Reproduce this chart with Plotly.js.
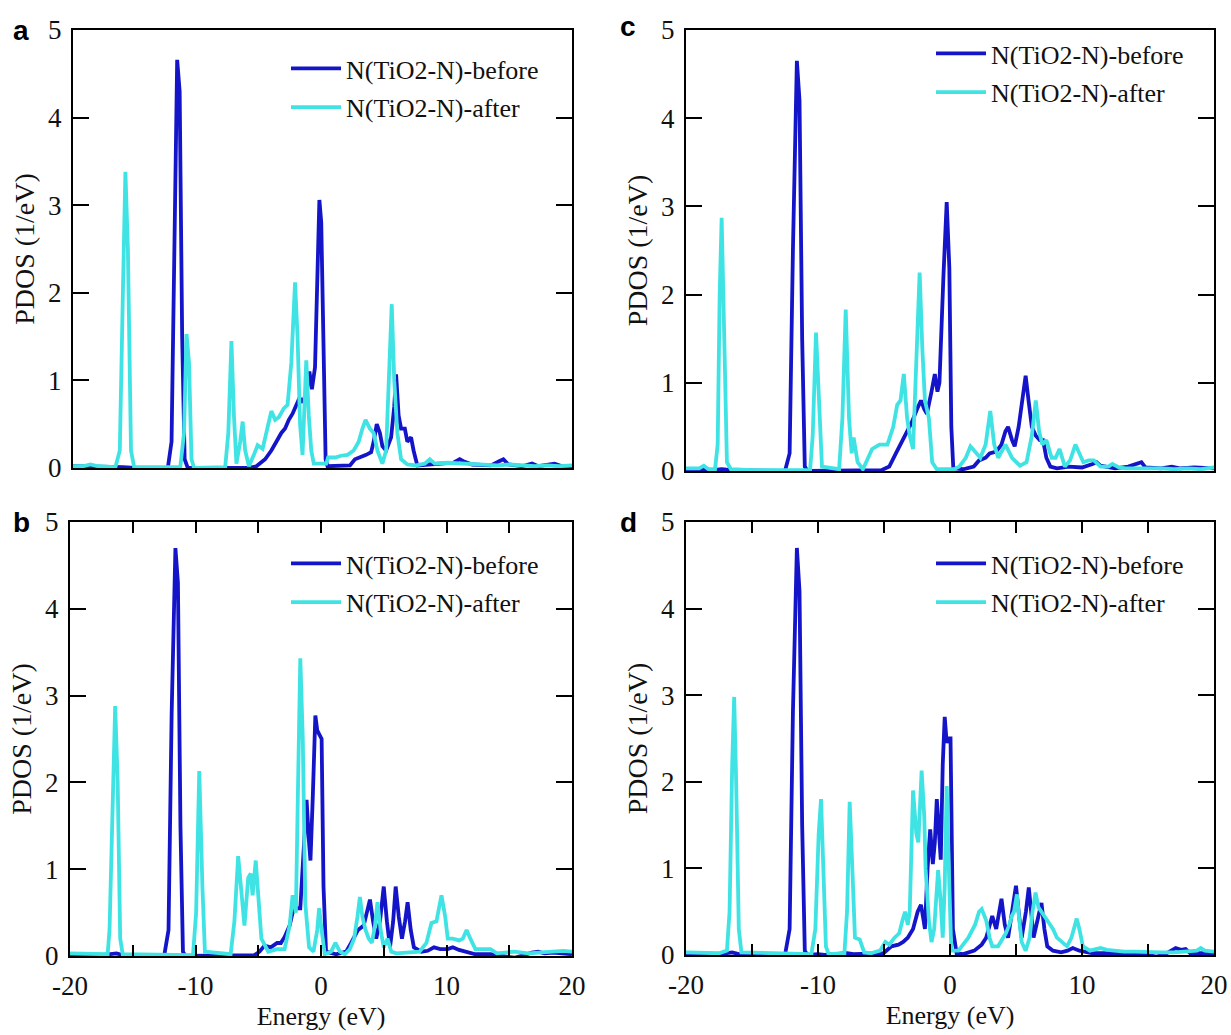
<!DOCTYPE html>
<html>
<head>
<meta charset="utf-8">
<script src="https://cdn.plot.ly/plotly-3.0.1.min.js"></script>
<style>html,body{margin:0;padding:0;background:#fff;}#chart{width:1231px;height:1035px;}</style>
</head>
<body>
<div id="chart"></div>
<script>
// ---------- DATA ----------
const seriesNames = ["N(TiO2-N)-before", "N(TiO2-N)-after"];
const panelLabels = ["a", "c", "b", "d"];
const xTickVals = [-20, -15, -10, -5, 0, 5, 10, 15, 20];
const xTickText = ["-20", "", "-10", "", "0", "", "10", "", "20"];
const yTickVals = [0, 1, 2, 3, 4, 5];

// Panel a
const aBeforeE = [-20,-19,-18,-17,-16,-15,-12.4,-12.1,-11.85,-11.65,-11.45,-11.25,-11.05,-10.8,-6,-5.3,-4.6,-4.1,-3.7,-3.3,-3.0,-2.7,-2.4,-2.1,-1.85,-1.6,-1.3,-1.05,-0.85,-0.6,-0.4,-0.25,-0.1,0.1,0.25,0.4,1.5,2.2,2.6,3.0,3.5,3.9,4.1,4.35,4.6,4.8,5.1,5.5,5.75,5.9,6.1,6.3,6.6,6.8,7.1,7.3,7.6,8.5,9.5,10.5,11.0,11.4,12,13.5,14.2,14.5,14.9,16,16.8,17.3,18.6,19.2,20];
const aBeforeY = [0.02,0.02,0.01,0.02,0.01,0,0,0.3,2.5,4.66,4.3,1.5,0.1,0,0,0.02,0.1,0.2,0.3,0.4,0.45,0.55,0.62,0.72,0.8,0.75,0.85,1.1,0.9,1.15,2.4,3.06,2.8,1.0,0.1,0.02,0.02,0.03,0.1,0.12,0.15,0.18,0.3,0.5,0.4,0.25,0.2,0.35,0.7,1.07,0.6,0.45,0.45,0.3,0.35,0.2,0.03,0.04,0.05,0.06,0.1,0.07,0.04,0.03,0.08,0.1,0.04,0.02,0.05,0.02,0.05,0.02,0.02];
const aAfterE = [-20,-19.2,-18.6,-18,-16.6,-16.25,-16.0,-15.8,-15.6,-15.35,-15.1,-11.4,-11.1,-10.9,-10.7,-10.5,-10.3,-7.8,-7.55,-7.3,-7.1,-6.9,-6.6,-6.4,-6.2,-5.9,-5.5,-5.2,-4.8,-4.5,-4.1,-3.8,-3.5,-3.1,-2.8,-2.5,-2.2,-2.0,-1.8,-1.6,-1.45,-1.3,-1.1,-0.9,-0.7,0.3,0.45,1.0,1.5,2.0,2.5,2.9,3.2,3.45,3.8,4.1,4.4,4.8,5.1,5.35,5.55,5.75,6.0,6.3,6.8,7.5,8.2,8.6,9.0,10,11,12,13,14,15,16,17,18,19,20];
const aAfterY = [0.02,0.02,0.04,0.02,0.01,0.2,2.0,3.38,2.5,0.2,0.01,0.01,0.4,1.53,1.2,0.1,0,0.01,0.4,1.45,0.6,0.05,0.3,0.53,0.2,0.02,0.15,0.26,0.22,0.4,0.65,0.55,0.58,0.68,0.72,1.2,2.12,1.5,0.5,0.15,0.6,1.23,0.6,0.2,0.05,0.05,0.12,0.12,0.14,0.15,0.2,0.3,0.45,0.55,0.45,0.4,0.2,0.05,0.2,1.0,1.87,1.0,0.4,0.1,0.04,0.03,0.05,0.1,0.05,0.06,0.05,0.05,0.04,0.03,0.04,0.03,0.02,0.03,0.02,0.03];

// Panel c
const cBeforeE = [-20,-18,-17.3,-16.5,-12.5,-12.15,-11.9,-11.6,-11.4,-11.2,-11.0,-10.8,-5.2,-4.6,-4.1,-3.6,-3.2,-2.9,-2.5,-2.2,-1.95,-1.75,-1.4,-1.15,-0.95,-0.8,-0.5,-0.25,-0.05,0.1,0.25,1.0,1.8,2.2,2.7,3.0,3.5,3.9,4.2,4.4,4.7,4.9,5.2,5.5,5.73,5.95,6.2,6.5,6.8,7.05,7.3,7.6,8.1,9,10,10.8,11.1,11.4,12.5,13.5,14.2,14.5,14.8,16,16.8,17.4,18.5,20];
const cBeforeY = [0.02,0.01,0.02,0.01,0,0.2,2.5,4.65,4.2,1.5,0.05,0,0.01,0.05,0.2,0.35,0.45,0.55,0.7,0.8,0.7,0.65,0.9,1.1,0.9,1.0,2.2,3.05,2.3,0.5,0.03,0.02,0.05,0.12,0.15,0.2,0.22,0.3,0.45,0.5,0.35,0.28,0.5,0.85,1.08,0.8,0.5,0.4,0.35,0.35,0.15,0.05,0.03,0.05,0.04,0.08,0.1,0.06,0.03,0.05,0.08,0.1,0.04,0.03,0.05,0.03,0.04,0.03];
const cAfterE = [-20,-19,-18.65,-18.3,-17.8,-17.6,-17.45,-17.3,-17.1,-16.9,-16.6,-15,-10.6,-10.4,-10.15,-9.95,-9.7,-8.4,-8.15,-7.9,-7.65,-7.45,-7.3,-7.0,-6.6,-6.2,-5.9,-5.34,-4.74,-4.3,-4.0,-3.75,-3.5,-3.25,-3.05,-2.8,-2.55,-2.3,-2.1,-1.9,-1.6,-1.35,-1.0,0.3,0.7,1.2,1.55,1.9,2.3,2.7,3.05,3.35,3.65,4.2,4.7,5.3,5.8,6.2,6.5,6.75,7.0,7.3,7.7,8.0,8.3,8.7,9.1,9.5,9.8,10.1,10.5,10.9,11.4,12.0,12.3,12.8,13.3,14,15,16,17,18,19,20];
const cAfterY = [0.03,0.03,0.06,0.02,0.02,0.3,2.0,2.87,1.5,0.1,0.02,0.01,0.01,0.4,1.57,0.8,0.05,0.02,0.6,1.83,0.6,0.2,0.38,0.1,0.02,0.15,0.25,0.3,0.3,0.5,0.75,0.8,1.1,0.6,0.4,0.25,1.2,2.25,1.4,0.8,0.6,0.1,0.02,0.02,0.05,0.15,0.28,0.22,0.15,0.3,0.68,0.3,0.15,0.3,0.15,0.06,0.1,0.4,0.8,0.45,0.3,0.35,0.15,0.15,0.25,0.05,0.12,0.3,0.2,0.1,0.12,0.12,0.05,0.05,0.08,0.04,0.03,0.03,0.04,0.03,0.02,0.03,0.02,0.04];

// Panel b
const bBeforeE = [-20,-18,-17.5,-16.3,-15.8,-12.5,-12.15,-11.9,-11.6,-11.4,-11.2,-11.0,-10.8,-5.3,-4.9,-4.5,-4.0,-3.5,-3.2,-2.9,-2.5,-2.26,-2.0,-1.65,-1.4,-1.15,-0.95,-0.84,-0.65,-0.45,-0.3,-0.15,0.05,0.2,0.4,1.2,2.0,2.4,2.95,3.4,3.7,3.9,4.15,4.4,4.7,5.0,5.25,5.5,5.75,5.95,6.2,6.45,6.7,6.9,7.15,7.4,8.0,8.5,9.0,9.5,10.1,10.5,11.0,11.6,12.3,13.5,14.5,15.4,16.2,16.8,17.3,17.8,18.5,20];
const bBeforeY = [0.02,0.02,0.01,0.03,0.01,0,0.3,2.8,4.7,4.3,1.5,0.05,0,0.01,0.05,0.12,0.1,0.15,0.15,0.22,0.35,0.5,0.55,0.55,1.2,1.8,1.3,1.1,1.85,2.77,2.6,2.55,2.5,0.8,0.05,0.02,0.05,0.15,0.3,0.35,0.55,0.65,0.4,0.2,0.4,0.8,0.4,0.1,0.4,0.8,0.45,0.2,0.4,0.62,0.3,0.1,0.05,0.06,0.1,0.08,0.08,0.1,0.07,0.05,0.02,0.02,0,-0.02,0.01,0.04,0.05,0.03,0.04,0.02];
const bAfterE = [-20,-18,-17,-16.85,-16.6,-16.4,-16.2,-16.0,-15.8,-10.2,-9.95,-9.7,-9.45,-9.25,-7.2,-6.9,-6.6,-6.35,-6.1,-5.8,-5.6,-5.45,-5.2,-5.0,-4.75,-4.2,-3.5,-2.9,-2.5,-2.26,-2.0,-1.85,-1.65,-1.45,-1.25,-0.95,-0.6,-0.3,-0.15,0.05,0.3,0.8,1.15,1.5,1.9,2.3,2.64,2.9,3.1,3.3,3.55,3.8,4.05,4.3,4.5,4.75,5.0,5.3,5.6,6.0,7.0,7.85,8.4,8.8,9.2,9.6,9.9,10.1,10.5,11.0,11.3,11.6,11.9,12.3,13.0,13.5,14,15.4,16.5,17.5,18.5,19.3,20];
const bAfterY = [0.03,0.03,0.02,0.3,2.0,2.88,2.0,0.2,0.02,0.01,0.5,2.13,0.8,0.05,0.02,0.4,1.15,0.7,0.35,0.9,0.95,0.7,1.1,0.7,0.2,0.05,0.08,0.08,0.35,0.7,0.5,1.8,3.43,2.5,0.6,0.1,0.05,0.3,0.55,0.3,0.02,0.05,0.15,0.05,0.02,0.08,0.2,0.45,0.68,0.45,0.3,0.2,0.15,0.35,0.62,0.3,0.1,0.2,0.05,0.03,0.04,0.05,0.15,0.38,0.4,0.7,0.45,0.2,0.2,0.18,0.2,0.3,0.2,0.08,0.08,0.08,0.03,0.05,0.03,0.04,0.05,0.06,0.05];

// Panel d
const dBeforeE = [-20,-18.5,-17.5,-16.5,-16,-12.5,-12.15,-11.9,-11.6,-11.4,-11.2,-11.0,-10.8,-10,-9.5,-7.8,-7.3,-5.04,-4.44,-3.9,-3.55,-3.2,-2.8,-2.45,-2.2,-2.0,-1.9,-1.7,-1.5,-1.3,-1.15,-1.0,-0.85,-0.7,-0.55,-0.4,-0.25,-0.1,0.04,0.22,0.5,1.0,1.84,2.4,2.74,3.0,3.2,3.5,3.75,3.9,4.15,4.4,4.75,5.0,5.2,5.43,5.75,5.97,6.15,6.33,6.7,6.93,7.15,7.37,7.8,8.42,8.9,9.3,9.8,10.3,10.8,12,13.5,15,15.6,16.3,17.1,17.5,17.85,18.2,20];
const dBeforeY = [0.02,0.02,0.01,0.03,0.01,0,0.3,2.8,4.7,4.2,1.5,0.05,0,0.01,0,0.02,0.01,0.02,0.1,0.12,0.15,0.2,0.3,0.5,0.58,0.4,0.3,1.0,1.45,1.05,1.3,1.8,1.4,1.1,2.2,2.75,2.45,2.5,2.5,0.3,0.02,0.01,0.05,0.12,0.2,0.35,0.45,0.3,0.55,0.65,0.35,0.2,0.55,0.8,0.5,0.2,0.5,0.78,0.5,0.2,0.45,0.6,0.3,0.1,0.05,0.03,0.05,0.08,0.05,0.04,0.02,0.02,0.01,0,-0.02,0.01,0.08,0.06,0.07,0.02,0.02];
const dAfterE = [-20,-19,-18.5,-17.5,-16.9,-16.7,-16.5,-16.35,-16.2,-16.0,-15.8,-10.5,-10.2,-9.95,-9.77,-9.6,-9.4,-9.2,-8.0,-7.8,-7.6,-7.4,-7.2,-6.84,-6.5,-6.0,-5.3,-4.9,-4.6,-4.2,-3.85,-3.6,-3.4,-3.2,-3.05,-2.8,-2.55,-2.4,-2.25,-2.15,-1.95,-1.85,-1.6,-1.4,-1.2,-1.05,-0.9,-0.7,-0.55,-0.4,-0.25,-0.05,0.1,0.64,1.0,1.39,1.9,2.2,2.4,2.74,3.0,3.2,3.64,4.0,4.23,4.5,4.68,4.85,5.07,5.25,5.43,5.73,6.03,6.25,6.48,6.7,6.93,7.15,7.37,7.8,8.1,8.5,8.87,9.2,9.45,9.6,9.8,10.07,10.6,11.0,11.4,11.9,12.5,13.2,14,15,16,17,18,18.7,19.0,19.3,20];
const dAfterY = [0.03,0.03,0.03,0.02,0.05,0.5,2.2,2.98,2.0,0.3,0.03,0.01,0.3,1.4,1.8,1.0,0.1,0.01,0.02,0.5,1.77,1.0,0.2,0.18,0.03,0.02,0.05,0.15,0.12,0.2,0.25,0.4,0.5,0.35,0.5,1.9,1.4,1.3,1.9,2.13,1.6,1.0,0.4,0.15,0.3,0.7,0.98,0.6,0.2,0.8,1.95,0.8,0.05,0.05,0.12,0.2,0.35,0.5,0.53,0.4,0.2,0.1,0.1,0.2,0.25,0.35,0.45,0.5,0.7,0.4,0.15,0.05,0.2,0.5,0.72,0.55,0.5,0.45,0.4,0.3,0.2,0.15,0.1,0.2,0.35,0.42,0.3,0.1,0.05,0.06,0.08,0.06,0.05,0.04,0.04,0.03,0.03,0.03,0.04,0.05,0.08,0.05,0.04];

// ---------- STYLE ----------
const BLUE = "#1414c8";
const CYAN = "#3fe3e3";
const SERIF = "Liberation Serif";
const LW = 3.8;

const panels = [
  {key: "", beforeE: aBeforeE, beforeY: aBeforeY, afterE: aAfterE, afterY: aAfterY, legend: "legend"},
  {key: "2", beforeE: cBeforeE, beforeY: cBeforeY, afterE: cAfterE, afterY: cAfterY, legend: "legend2"},
  {key: "3", beforeE: bBeforeE, beforeY: bBeforeY, afterE: bAfterE, afterY: bAfterY, legend: "legend3"},
  {key: "4", beforeE: dBeforeE, beforeY: dBeforeY, afterE: dAfterE, afterY: dAfterY, legend: "legend4"}
];

const traces = [];
panels.forEach((p, i) => {
  traces.push({x: p.beforeE, y: p.beforeY, type: "scatter", mode: "lines", name: seriesNames[0],
    xaxis: "x" + p.key, yaxis: "y" + p.key, legend: p.legend, legendgroup: "g" + i + "b",
    line: {color: BLUE, width: LW}});
  traces.push({x: p.afterE, y: p.afterY, type: "scatter", mode: "lines", name: seriesNames[1],
    xaxis: "x" + p.key, yaxis: "y" + p.key, legend: p.legend, legendgroup: "g" + i + "a",
    line: {color: CYAN, width: LW}});
});

const W = 1231, H = 1035;
const fx = px => px / W;
const fy = py => 1 - py / H;

function xAxis(dom, anchor, bottomRow) {
  return {
    domain: dom, anchor: anchor, range: [-20, 20], showgrid: false, zeroline: false,
    showline: true, linecolor: "#000", linewidth: 2, mirror: bottomRow ? "ticks" : true,
    ticks: bottomRow ? "inside" : "", ticklen: 11, tickwidth: 2, tickcolor: "#000",
    tickmode: "array", tickvals: xTickVals, ticktext: xTickText,
    showticklabels: bottomRow, ticklabelstandoff: 5,
    tickfont: {family: SERIF, size: 27, color: "#111"},
    title: bottomRow ? {text: "Energy (eV)", font: {family: SERIF, size: 26, color: "#111"}, standoff: 6} : {text: ""}
  };
}
function yAxis(dom, anchor) {
  return {
    domain: dom, anchor: anchor, range: [0, 5], showgrid: false, zeroline: false,
    showline: true, linecolor: "#000", linewidth: 2, mirror: "ticks",
    ticks: "inside", ticklen: 16, tickwidth: 2, tickcolor: "#000",
    tickmode: "array", tickvals: yTickVals, ticklabelstandoff: 4,
    tickfont: {family: SERIF, size: 27, color: "#111"},
    title: {text: "PDOS (1/eV)", font: {family: SERIF, size: 28, color: "#111"}, standoff: 5}
  };
}
function legendAt(px, py) {
  return {x: fx(px), y: fy(py), xanchor: "left", yanchor: "top", bgcolor: "rgba(0,0,0,0)",
    borderwidth: 0, font: {family: SERIF, size: 26, color: "#111"}, tracegroupgap: 2,
    traceorder: "grouped", itemclick: false, itemwidth: 50};
}

const layout = {
  width: W, height: H, margin: {l: 0, r: 0, t: 0, b: 0},
  font: {family: SERIF, color: "#111"},
  paper_bgcolor: "#fff", plot_bgcolor: "#fff", showlegend: true,
  xaxis:  xAxis([fx(73), fx(572)], "y", false),
  yaxis:  yAxis([fy(468), fy(30)], "x"),
  xaxis2: xAxis([fx(686), fx(1214)], "y2", false),
  yaxis2: yAxis([fy(471), fy(30)], "x2"),
  xaxis3: xAxis([fx(70), fx(572)], "y3", true),
  yaxis3: yAxis([fy(956), fy(522)], "x3"),
  xaxis4: xAxis([fx(686), fx(1214)], "y4", true),
  yaxis4: yAxis([fy(955), fy(522)], "x4"),
  legend:  legendAt(286, 45),
  legend2: legendAt(931, 30),
  legend3: legendAt(286, 540),
  legend4: legendAt(931, 540),
  annotations: [
    {text: "<b>" + panelLabels[0] + "</b>", x: fx(21), y: fy(30)},
    {text: "<b>" + panelLabels[1] + "</b>", x: fx(628), y: fy(27)},
    {text: "<b>" + panelLabels[2] + "</b>", x: fx(21), y: fy(522)},
    {text: "<b>" + panelLabels[3] + "</b>", x: fx(628), y: fy(522)}
  ].map(a => Object.assign(a, {xref: "paper", yref: "paper", showarrow: false,
      xanchor: "center", yanchor: "middle", font: {family: "Liberation Sans", size: 28, color: "#000"}}))
};

Plotly.newPlot("chart", traces, layout, {displayModeBar: false, staticPlot: true});
</script>
</body>
</html>
